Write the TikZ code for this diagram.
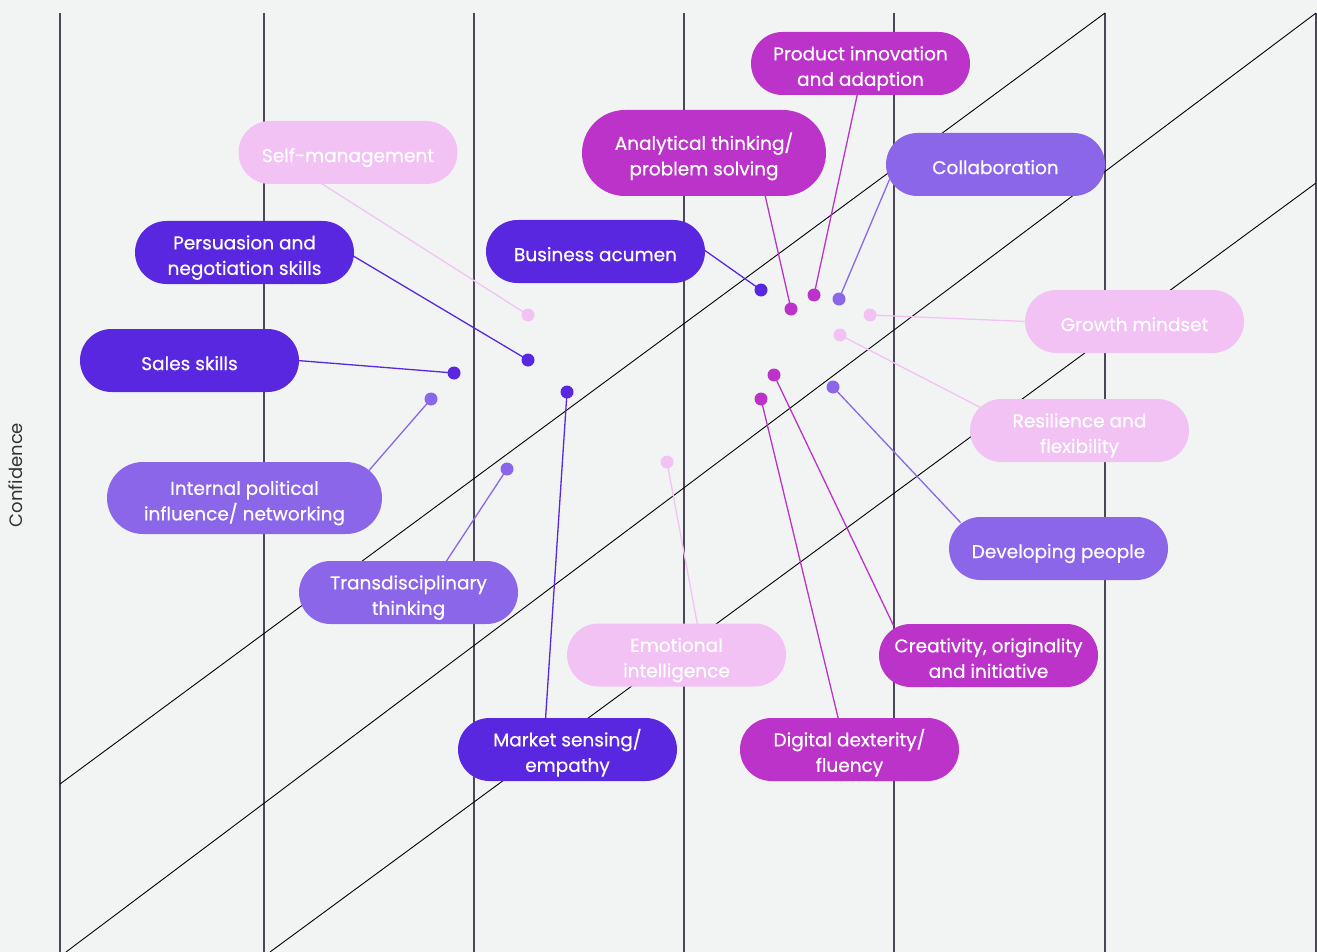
\documentclass[tikz,border=0pt]{standalone}
\usepackage{fontspec}
\setmainfont{Poppins}
\newfontfamily\pillfont{Poppins}[FakeBold=0.5]
\usetikzlibrary{calc}
\definecolor{bgc}{HTML}{F2F4F3}
\definecolor{dkv}{HTML}{5A27E0}
\definecolor{mdv}{HTML}{8C66E8}
\definecolor{mag}{HTML}{BB33C8}
\definecolor{lpk}{HTML}{F2C2F5}
\definecolor{gridc}{HTML}{4D4659}
\definecolor{labc}{HTML}{333333}
\newcommand{\pilltext}[1]{\raisebox{-4.5pt}[\height][\depth]{\begin{tabular}{@{}c@{}}#1\end{tabular}}}
\pgfdeclarelayer{bg}
\pgfsetlayers{bg,main}
\tikzset{
  pill/.style={fill=#1, text=white, minimum width=219pt, minimum height=63pt,
    rounded corners=31.5pt, inner sep=0pt, font=\pillfont\fontsize{18.5}{25.5}\selectfont},
  dotn/.style={circle, fill=#1, minimum size=13pt, inner sep=0pt},
  conn/.style={draw=#1, line width=1.3pt},
  vline/.style={draw=gridc, line width=1.4pt},
  dline/.style={draw=black, line width=0.9pt},
}
\begin{document}
\begin{tikzpicture}[x=1pt,y=-1pt]
\useasboundingbox (0,0) rectangle (1317,952);
\begin{pgfonlayer}{bg}
\fill[bgc] (0,0) rectangle (1317,952);
\foreach \x in {60,264,474,684,894,1105,1316} \draw[vline] (\x,13) -- (\x,952);
\draw[dline] (60,784) -- (1105,13);
\draw[dline] (66,952) -- (1316,13);
\draw[dline] (270,952) -- (1316,183);
\end{pgfonlayer}

\node[rotate=90, text=labc, font=\fontsize{18}{22}\selectfont] (conf) at (16,475) {Confidence};

% pills
\node[pill=mag] (prod) at (860.5,63.5) {\pilltext{Product innovation\\and adaption}};
\node[pill=lpk] (selfm) at (348,152.5) {\pilltext{Self-management}};
\node[pill=mag, minimum width=244pt, minimum height=86pt, rounded corners=43pt] (anal) at (704,153) {\pilltext{Analytical thinking/\\problem solving}};
\node[pill=mdv] (collab) at (995.5,164.5) {\pilltext{Collaboration}};
\node[pill=dkv] (pers) at (244.5,252.5) {\pilltext{Persuasion and\\negotiation skills}};
\node[pill=dkv] (bus) at (595.5,251.5) {\pilltext{Business acumen}};
\node[pill=lpk] (grow) at (1134.5,321.5) {\pilltext{Growth mindset}};
\node[pill=dkv] (sales) at (189.5,360.5) {\pilltext{Sales skills}};
\node[pill=lpk] (resil) at (1079.5,430.5) {\pilltext{Resilience and\\flexibility}};
\node[pill=mdv, minimum width=275pt, minimum height=72pt, rounded corners=36pt] (intp) at (244.5,498) {\pilltext{Internal political\\influence/ networking}};
\node[pill=mdv] (devp) at (1058.5,548.5) {\pilltext{Developing people}};
\node[pill=mdv] (trans) at (408.5,592.5) {\pilltext{Transdisciplinary\\thinking}};
\node[pill=lpk] (emo) at (676.5,655) {\pilltext{Emotional\\intelligence}};
\node[pill=mag] (crea) at (988.5,655.5) {\pilltext{Creativity, originality\\and initiative}};
\node[pill=dkv] (mkt) at (567.5,749.5) {\pilltext{Market sensing/\\empathy}};
\node[pill=mag] (digi) at (849.5,749.5) {\pilltext{Digital dexterity/\\fluency}};

% dots
\node[dotn=lpk] (dselfm) at (528,315) {};
\node[dotn=dkv] (dpers) at (528,360) {};
\node[dotn=dkv] (dsales) at (454,373) {};
\node[dotn=mdv] (dintp) at (431,399) {};
\node[dotn=dkv] (dmkt) at (567,392) {};
\node[dotn=mdv] (dtrans) at (507,469) {};
\node[dotn=lpk] (demo) at (667,462) {};
\node[dotn=dkv] (dbus) at (761,290) {};
\node[dotn=mag] (danal) at (791,309) {};
\node[dotn=mag] (dprod) at (814,295) {};
\node[dotn=mdv] (dcollab) at (839,299) {};
\node[dotn=lpk] (dgrow) at (870,315) {};
\node[dotn=lpk] (dresil) at (840,335) {};
\node[dotn=mag] (dcrea) at (774,375) {};
\node[dotn=mag] (ddigi) at (761,399) {};
\node[dotn=mdv] (ddevp) at (833,387) {};

% connectors
\begin{pgfonlayer}{bg}
\draw[conn=lpk] (dselfm.center) -- ($(selfm.center)+(-28,30)$);
\draw[conn=dkv] (dpers.center) -- ($(pers.center)+(108,3)$);
\draw[conn=dkv] (dsales.center) -- ($(sales.center)+(108,0)$);
\draw[conn=mdv] (dintp.center) -- ($(intp.center)+(124,-27)$);
\draw[conn=mdv] (dtrans.center) -- ($(trans.center)+(37,-30)$);
\draw[conn=dkv] (dmkt.center) -- ($(mkt.center)+(-22,-30)$);
\draw[conn=lpk] (demo.center) -- ($(emo.center)+(21,-30)$);
\draw[conn=dkv] (dbus.center) -- ($(bus.center)+(108,-2)$);
\draw[conn=mag] (danal.center) -- ($(anal.center)+(61,42)$);
\draw[conn=mag] (dprod.center) -- ($(prod.center)+(-3,30)$);
\draw[conn=mdv] (dcollab.center) -- ($(collab.center)+(-106,15)$);
\draw[conn=lpk] (dgrow.center) -- ($(grow.center)+(-108,0)$);
\draw[conn=lpk] (dresil.center) -- ($(resil.center)+(-99,-23)$);
\draw[conn=mdv] (ddevp.center) -- ($(devp.center)+(-98,-26)$);
\draw[conn=mag] (dcrea.center) -- ($(crea.center)+(-95,-30)$);
\draw[conn=mag] (ddigi.center) -- ($(digi.center)+(-11,-30)$);
\end{pgfonlayer}
\end{tikzpicture}
\end{document}
